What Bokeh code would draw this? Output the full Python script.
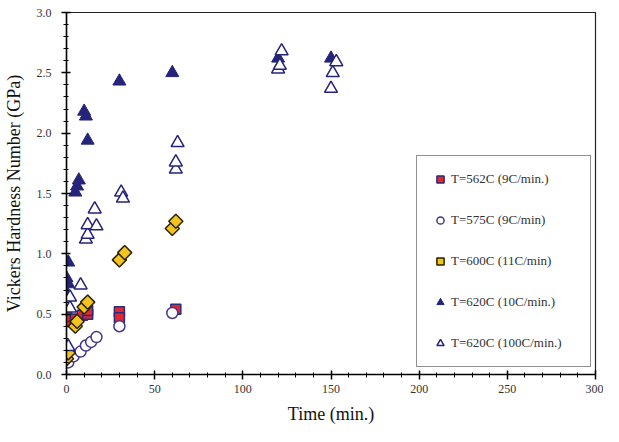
import numpy as np
from bokeh.plotting import figure
from bokeh.models import Legend, LegendItem, Range1d, FixedTicker, CustomJSTickFormatter
from bokeh.embed import file_html
from bokeh.resources import INLINE

# ---- data ----
t562_x = [0, 0, 5, 9, 12, 12, 30, 30, 62]
t562_y = [0.44, 0.48, 0.46, 0.49, 0.50, 0.53, 0.52, 0.47, 0.54]

t575_x = [1, 4, 8, 11, 14, 17, 30, 60]
t575_y = [0.10, 0.15, 0.19, 0.24, 0.27, 0.31, 0.40, 0.51]

t600_x = [0, 1, 5, 6, 10, 12, 30, 33, 60, 62]
t600_y = [0.13, 0.18, 0.40, 0.44, 0.56, 0.60, 0.95, 1.01, 1.21, 1.27]

t620a_x = [0, 1, 0, 1, 5, 6, 7, 10, 11, 12, 30, 60, 120, 150]
t620a_y = [0.68, 0.75, 0.80, 0.93, 1.51, 1.56, 1.61, 2.18, 2.14, 1.94, 2.43, 2.50, 2.62, 2.62]

t620b_x = [1, 2, 2, 8, 11, 12, 12, 16, 17, 31, 32, 62, 62, 63, 120, 121, 122, 150, 151, 153]
t620b_y = [0.23, 0.55, 0.64, 0.74, 1.12, 1.16, 1.24, 1.37, 1.23, 1.51, 1.46, 1.70, 1.76, 1.92,
           2.53, 2.56, 2.68, 2.37, 2.50, 2.59]

labels = ["T=562C (9C/min.)", "T=575C (9C/min)", "T=600C (11C/min)",
          "T=620C (10C/min.)", "T=620C (100C/min.)"]

x_ticks = [0, 50, 100, 150, 200, 250, 300]
y_ticks = [0.0, 0.5, 1.0, 1.5, 2.0, 2.5, 3.0]

FONT = "Liberation Serif"
NAVY = "#24247a"

p = figure(width=603, height=426, output_backend="svg", toolbar_location=None,
           x_range=Range1d(0, 300), y_range=Range1d(0, 3.0),
           min_border_left=66, min_border_right=8, min_border_top=12, min_border_bottom=52)
p.grid.visible = False
p.outline_line_color = "#222222"
p.outline_line_width = 1.2
p.background_fill_color = "white"

r1 = p.scatter(t562_x, t562_y, marker="square", size=10, fill_color="#e3262f",
               line_color="#2c2c7c", line_width=1.5)
r2 = p.scatter(t575_x, t575_y, marker="circle", size=11, fill_color="white",
               line_color="#45378a", line_width=1.5)
r3 = p.scatter(t600_x, t600_y, marker="square", angle=np.pi / 4, size=10,
               fill_color="#f3c41e", line_color="#2b2200", line_width=1.5)
r4 = p.scatter(t620a_x, t620a_y, marker="triangle", size=13, fill_color=NAVY,
               line_color=NAVY, line_width=1)
r5 = p.scatter(t620b_x, t620b_y, marker="triangle", size=13, fill_color="white",
               line_color=NAVY, line_width=1.5)

legend = Legend(items=[LegendItem(label=l, renderers=[r]) for l, r in
                       zip(labels, [r1, r2, r3, r4, r5])],
                location=(350, 7), orientation="vertical")
legend.label_text_font = FONT
legend.label_text_font_size = "13px"
legend.label_text_color = "#333333"
legend.glyph_width = 18
legend.glyph_height = 18
legend.label_height = 18
legend.label_standoff = 2
legend.spacing = 23
legend.padding = 14
legend.label_width = 125
legend.border_line_color = "#222222"
legend.border_line_width = 1.5
legend.background_fill_alpha = 1.0
p.add_layout(legend, "center")

for ax in (p.xaxis[0], p.yaxis[0]):
    ax.axis_line_color = "black"
    ax.axis_line_width = 1.5
    ax.major_tick_line_color = "black"
    ax.minor_tick_line_color = "black"
    ax.major_tick_line_width = 1.5
    ax.major_tick_in = 4
    ax.major_tick_out = 5
    ax.minor_tick_in = 2
    ax.minor_tick_out = 3
    ax.major_label_text_font = FONT
    ax.major_label_text_font_size = "12px"
    ax.major_label_text_color = "#333333"
    ax.axis_label_text_font = FONT
    ax.axis_label_text_font_size = "18px"
    ax.axis_label_text_font_style = "normal"
    ax.axis_label_text_color = "#111111"

p.xaxis.ticker = FixedTicker(ticks=x_ticks, minor_ticks=list(range(0, 301, 10)))
p.yaxis.ticker = FixedTicker(ticks=y_ticks, minor_ticks=[i / 10 for i in range(31)])
p.yaxis.formatter = CustomJSTickFormatter(code="return tick.toFixed(1);")
p.xaxis.axis_label = "Time (min.)"
p.yaxis.axis_label = "Vickers Hardness Number (GPa)"
p.xaxis.major_label_standoff = 5
p.yaxis.major_label_standoff = 10
p.xaxis.axis_label_standoff = 8
p.yaxis.axis_label_standoff = 10

open("out.html", "w").write(file_html(p, INLINE))
